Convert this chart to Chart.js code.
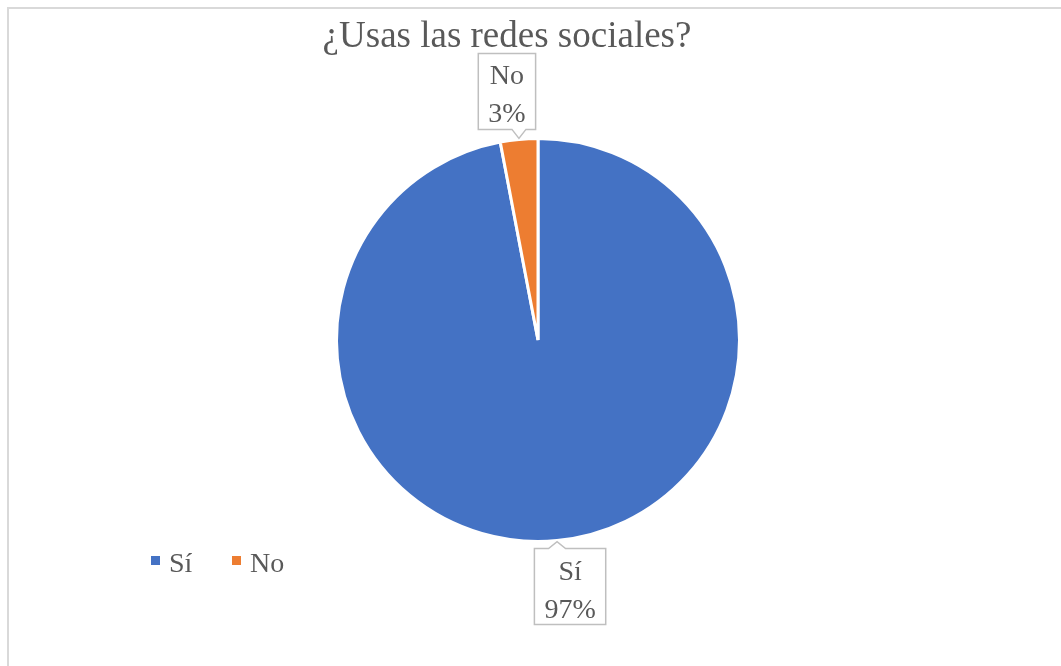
<!DOCTYPE html>
<html>
<head>
<meta charset="utf-8">
<script src="https://cdn.jsdelivr.net/npm/chart.js@4.4.0/dist/chart.umd.min.js"></script>
<style>
  html, body { margin: 0; padding: 0; background: #fff; }
  #wrap { width: 1061px; height: 666px; position: relative; }
</style>
</head>
<body>
<div id="wrap"><canvas id="myChart" width="1061" height="666"></canvas></div>
<script>
'use strict'

// data
let categories = ['Sí', 'No'];
let values = [97, 3];
let colors = ['#4472C4', '#ED7D31'];
let chartTitle = '¿Usas las redes sociales?';

let serif = '"Liberation Serif", "Times New Roman", serif';
let textGray = '#595959';

// frame around the chart, like the office chart border
let framePlugin = {
  id: 'frame',
  beforeDraw(chart) {
    let ctx = chart.ctx;
    ctx.save();
    ctx.strokeStyle = '#d9d9d9';
    ctx.lineWidth = 2;
    ctx.beginPath();
    ctx.moveTo(8, 700);
    ctx.lineTo(8, 8);
    ctx.lineTo(1100, 8);
    ctx.stroke();
    ctx.restore();
  }
};

// title drawn a bit left of the pie center, as in the reference
let titlePlugin = {
  id: 'sheetTitle',
  afterDraw(chart) {
    let ctx = chart.ctx;
    ctx.save();
    ctx.font = '37px ' + serif;
    ctx.fillStyle = textGray;
    ctx.textAlign = 'center';
    ctx.textBaseline = 'alphabetic';
    ctx.fillText(chartTitle, 507, 47);
    ctx.restore();
  }
};

// callout boxes with category + percent
let calloutPlugin = {
  id: 'callouts',
  afterDatasetsDraw(chart) {
    let ctx = chart.ctx;
    let meta = chart.getDatasetMeta(0);
    let total = values.reduce((a, b) => a + b, 0);
    ctx.save();
    ctx.font = '28px ' + serif;
    meta.data.forEach(function (arc, i) {
      let mid = (arc.startAngle + arc.endAngle) / 2;
      let tipX = arc.x + Math.cos(mid) * (arc.outerRadius + 1);
      let tipY = arc.y + Math.sin(mid) * (arc.outerRadius + 1);
      let below = Math.sin(mid) > 0;
      let lines = [categories[i], Math.round(values[i] / total * 100) + '%'];
      let w = Math.max(ctx.measureText(lines[0]).width, ctx.measureText(lines[1]).width) + 20;
      let h = 76;
      let shift = Math.cos(mid) >= 0 ? 13 : -12;
      let cx = tipX + shift;
      let left = cx - w / 2;
      let top = below ? tipY + 7 : tipY - 9 - h;
      let baseY = below ? top : top + h;

      ctx.beginPath();
      ctx.moveTo(left, top);
      if (below) {
        ctx.lineTo(tipX - 8.5, top);
        ctx.lineTo(tipX, tipY);
        ctx.lineTo(tipX + 8.5, top);
      }
      ctx.lineTo(left + w, top);
      ctx.lineTo(left + w, top + h);
      if (!below) {
        ctx.lineTo(tipX + 7, baseY);
        ctx.lineTo(tipX, tipY);
        ctx.lineTo(tipX - 7, baseY);
      }
      ctx.lineTo(left, top + h);
      ctx.closePath();
      ctx.fillStyle = '#ffffff';
      ctx.fill();
      ctx.strokeStyle = '#bfbfbf';
      ctx.lineWidth = 1.5;
      ctx.stroke();

      ctx.fillStyle = textGray;
      ctx.textAlign = 'center';
      ctx.textBaseline = 'alphabetic';
      ctx.fillText(lines[0], cx, top + 31);
      ctx.fillText(lines[1], cx, top + 69);
    });
    ctx.restore();
  }
};

// legend at bottom left
let legendPlugin = {
  id: 'sheetLegend',
  afterDraw(chart) {
    let ctx = chart.ctx;
    ctx.save();
    ctx.font = '28px ' + serif;
    ctx.textBaseline = 'alphabetic';
    ctx.textAlign = 'left';
    let x = 151;
    categories.forEach(function (cat, i) {
      ctx.fillStyle = colors[i];
      ctx.fillRect(x, 556, 9, 9);
      ctx.fillStyle = textGray;
      ctx.fillText(cat, x + 18, 572);
      x += 81;
    });
    ctx.restore();
  }
};

let ctx = document.getElementById('myChart').getContext('2d');
let myChart = new Chart(ctx, {
  type: 'pie',
  data: {
    labels: categories,
    datasets: [{
      data: values,
      backgroundColor: colors,
      borderColor: '#ffffff',
      borderWidth: 3
    }]
  },
  options: {
    responsive: false,
    animation: false,
    events: [],
    layout: {
      padding: { left: 335, right: 320, top: 137, bottom: 123 }
    },
    plugins: {
      legend: { display: false },
      title: { display: false },
      tooltip: { enabled: false }
    }
  },
  plugins: [framePlugin, titlePlugin, calloutPlugin, legendPlugin]
});
</script>
</body>
</html>
